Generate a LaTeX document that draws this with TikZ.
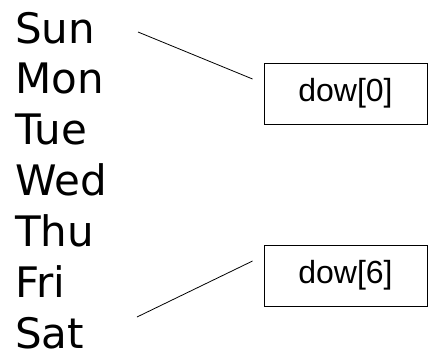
\documentclass[tikz,border=0pt]{standalone}
\usepackage{fontspec}
\setmainfont{DejaVu Sans}
\newfontfamily\boxfont{Liberation Sans}
\usetikzlibrary{calc}
\begin{document}
\begin{tikzpicture}[x=1pt,y=1pt,
  day/.style={anchor=base west,inner sep=0pt,font=\fontsize{42}{50}\selectfont},
  dowbox/.style={draw,line width=0.9pt,minimum width=163pt,minimum height=61pt,inner sep=0pt,font=\boxfont\fontsize{32}{38}\selectfont},
  conn/.style={line width=0.8pt}]
\useasboundingbox (0,0) rectangle (430,360);
\node[day] (sun) at (15,317) {Sun};
\node[day] (mon) at (15,266.2) {Mon};
\node[day] (tue) at (15,215.3) {Tue};
\node[day] (wed) at (15,164.5) {Wed};
\node[day] (thu) at (15,113.7) {Thu};
\node[day] (fri) at (15,62.8) {Fri};
\node[day] (sat) at (15,12) {Sat};
\node[dowbox] (d0) at (345.5,266.5) {dow[0]};
\node[dowbox] (d6) at (345.5,84.5) {dow[6]};
\coordinate (s0) at (138,328);
\coordinate (s6) at (137,43);
\draw[conn] (s0) -- ($(d0.west)+(-11,14.5)$);
\draw[conn] (s6) -- ($(d6.west)+(-11,14.5)$);
\end{tikzpicture}
\end{document}
